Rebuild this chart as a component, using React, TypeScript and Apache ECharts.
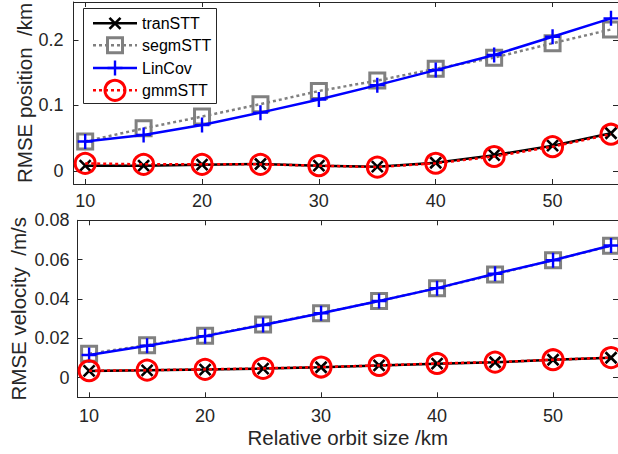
import React, { useEffect, useRef } from "react";
import * as echarts from "echarts";

// Relative orbit size (km)
const orbitSize = [10, 15, 20, 25, 30, 35, 40, 45, 50, 55];

// RMSE position (km)
const posTranSTT = [0.008, 0.008, 0.0095, 0.0105, 0.008, 0.0065, 0.0125, 0.024, 0.0385, 0.0575];
const posSegmSTT = [0.045, 0.065, 0.083, 0.102, 0.122, 0.138, 0.156, 0.173, 0.195, 0.216];
const posLinCov = [0.045, 0.055, 0.07, 0.089, 0.109, 0.131, 0.154, 0.177, 0.205, 0.233];
const posGmmSTT = [0.0115, 0.01, 0.01, 0.01, 0.008, 0.0058, 0.0117, 0.022, 0.037, 0.056];

// RMSE velocity (m/s)
const velTranSTT = [0.0034, 0.0037, 0.0041, 0.0046, 0.0053, 0.0062, 0.0071, 0.0078, 0.0091, 0.0101];
const velSegmSTT = [0.0122, 0.0165, 0.0213, 0.027, 0.0328, 0.039, 0.0455, 0.0525, 0.0597, 0.067];
const velLinCov = [0.0115, 0.0162, 0.0211, 0.0268, 0.0327, 0.039, 0.0455, 0.0528, 0.0597, 0.0672];
const velGmmSTT = [0.0035, 0.0038, 0.0042, 0.0047, 0.0054, 0.0062, 0.0072, 0.0079, 0.0091, 0.0102];

// Tick values
const xTicks = [10, 20, 30, 40, 50];
const posTicks = [0, 0.1, 0.2];
const velTicks = [0, 0.02, 0.04, 0.06, 0.08];

const seriesNames = ["tranSTT", "segmSTT", "LinCov", "gmmSTT"];

const FONT = "'Liberation Sans', Arial, Helvetica, sans-serif";
const AXIS_COLOR = "#262626";

const CROSS = "path://M0 0L10 10M10 0L0 10";
const PLUS = "path://M5 0L5 10M0 5L10 5";

const styles = [
  {
    line: { color: "#000000", width: 2.5, type: "solid" as any },
    symbol: CROSS,
    size: 11,
    item: { color: "transparent", borderColor: "#000000", borderWidth: 2.6 },
  },
  {
    line: { color: "#808080", width: 2.5, type: [3, 3] as any },
    symbol: "rect",
    size: 15,
    item: { color: "transparent", borderColor: "#808080", borderWidth: 3 },
  },
  {
    line: { color: "#0000ff", width: 2.5, type: "solid" as any },
    symbol: PLUS,
    size: 15,
    item: { color: "transparent", borderColor: "#0000ff", borderWidth: 2.4 },
  },
  {
    line: { color: "#ff0000", width: 2.5, type: [3, 3] as any },
    symbol: "circle",
    size: 20,
    item: { color: "transparent", borderColor: "#ff0000", borderWidth: 3 },
  },
];

function makeSeries(values: number[][], axisIndex: number) {
  return values.map((vals, i) => ({
    name: seriesNames[i],
    type: "line",
    xAxisIndex: axisIndex * 2,
    yAxisIndex: axisIndex * 2,
    data: orbitSize.map((x, k) => [x, vals[k]]),
    symbol: styles[i].symbol,
    symbolSize: styles[i].size,
    showAllSymbol: true,
    lineStyle: styles[i].line,
    itemStyle: styles[i].item,
    z: 2 + i,
    emphasis: { disabled: true },
  }));
}

function xAxes(gridIndex: number, showName: boolean) {
  const base = {
    type: "value",
    gridIndex,
    min: 9,
    max: 55.6,
    splitLine: { show: false },
    axisLine: { show: true, onZero: false, lineStyle: { color: AXIS_COLOR, width: 1 } },
  };
  return [
    {
      ...base,
      position: "bottom",
      axisTick: { show: true, inside: true, length: 5, customValues: xTicks, lineStyle: { color: AXIS_COLOR } },
      axisLabel: { show: true, customValues: xTicks, margin: gridIndex === 0 ? 8 : 10, fontSize: 18, fontFamily: FONT, color: AXIS_COLOR },
      name: showName ? "Relative orbit size /km" : "",
      nameLocation: "middle",
      nameGap: 30,
      nameMoveOverlap: false,
      nameTextStyle: { fontSize: 20.5, fontFamily: FONT, color: AXIS_COLOR },
    },
    {
      ...base,
      position: "top",
      axisTick: { show: true, inside: true, length: 5, customValues: xTicks, lineStyle: { color: AXIS_COLOR } },
      axisLabel: { show: false },
    },
  ];
}

function yAxes(gridIndex: number, min: number, max: number, ticks: number[], name: string, gap: number, margin: number) {
  const base = {
    type: "value",
    gridIndex,
    min,
    max,
    splitLine: { show: false },
    axisLine: { show: true, onZero: false, lineStyle: { color: AXIS_COLOR, width: 1 } },
    axisTick: { show: true, inside: true, length: 5, customValues: ticks, lineStyle: { color: AXIS_COLOR } },
  };
  return [
    {
      ...base,
      position: "left",
      axisLabel: { show: true, customValues: ticks, margin, fontSize: 18, fontFamily: FONT, color: AXIS_COLOR },
      name,
      nameLocation: "middle",
      nameRotate: 90,
      nameGap: gap,
      nameMoveOverlap: false,
      nameTextStyle: { fontSize: 20.5, fontFamily: FONT, color: AXIS_COLOR },
    },
    {
      ...base,
      position: "right",
      axisLabel: { show: false },
    },
  ];
}

// Legend box drawn in the upper panel
function legendGraphics() {
  const rows = [23.3, 45.3, 68, 90.3];
  const lx1 = 93;
  const lx2 = 137;
  const mx = 115;
  const els: any[] = [
    {
      type: "rect",
      z: 100,
      shape: { x: 83.5, y: 8.5, width: 133, height: 95 },
      style: { fill: "#ffffff", stroke: AXIS_COLOR, lineWidth: 1 },
    },
  ];
  rows.forEach((y, i) => {
    const st = styles[i];
    els.push({
      type: "line",
      z: 101,
      shape: { x1: lx1, y1: y, x2: lx2, y2: y },
      style: {
        stroke: st.line.color,
        lineWidth: st.line.width,
        lineDash: Array.isArray(st.line.type) ? st.line.type : null,
      },
    });
    const stroke = st.item.borderColor;
    const lw = st.item.borderWidth;
    if (i === 0) {
      const h = st.size / 2;
      els.push({ type: "line", z: 102, shape: { x1: mx - h, y1: y - h, x2: mx + h, y2: y + h }, style: { stroke, lineWidth: lw } });
      els.push({ type: "line", z: 102, shape: { x1: mx - h, y1: y + h, x2: mx + h, y2: y - h }, style: { stroke, lineWidth: lw } });
    } else if (i === 1) {
      const h = st.size / 2;
      els.push({ type: "rect", z: 102, shape: { x: mx - h, y: y - h, width: st.size, height: st.size }, style: { fill: "none", stroke, lineWidth: lw } });
    } else if (i === 2) {
      const h = st.size / 2;
      els.push({ type: "line", z: 102, shape: { x1: mx, y1: y - h, x2: mx, y2: y + h }, style: { stroke, lineWidth: lw } });
      els.push({ type: "line", z: 102, shape: { x1: mx - h, y1: y, x2: mx + h, y2: y }, style: { stroke, lineWidth: lw } });
    } else {
      els.push({ type: "circle", z: 102, shape: { cx: mx, cy: y, r: st.size / 2 }, style: { fill: "none", stroke, lineWidth: lw } });
    }
    els.push({
      type: "text",
      z: 102,
      style: {
        text: seriesNames[i],
        x: 142,
        y,
        fontSize: 16,
        fontFamily: FONT,
        fill: "#000000",
        align: "left",
        verticalAlign: "middle",
      },
    });
  });
  return els;
}

export default function App() {
  const ref = useRef<HTMLDivElement>(null);

  useEffect(() => {
    if (!ref.current) return;
    const chart = echarts.init(ref.current, null, { renderer: "svg" });
    chart.setOption({
      animation: false,
      backgroundColor: "#ffffff",
      grid: [
        { left: 73.5, top: 2, width: 544.5, height: 182 },
        { left: 76.3, top: 220.3, width: 541.7, height: 177 },
      ],
      xAxis: [...xAxes(0, false), ...xAxes(1, true)],
      yAxis: [
        ...yAxes(0, -0.02, 0.258, posTicks, "RMSE position  /km", 39, 10),
        ...yAxes(1, -0.01, 0.08, velTicks, "RMSE velocity  /m/s", 48.5, 8),
      ],
      series: [
        ...makeSeries([posTranSTT, posSegmSTT, posLinCov, posGmmSTT], 0),
        ...makeSeries([velTranSTT, velSegmSTT, velLinCov, velGmmSTT], 1),
      ],
      graphic: legendGraphics(),
    });
    return () => chart.dispose();
  }, []);

  return (
    <div
      ref={ref}
      style={{ position: "absolute", left: 0, top: 0, width: 618, height: 454, background: "#fff" }}
    />
  );
}
